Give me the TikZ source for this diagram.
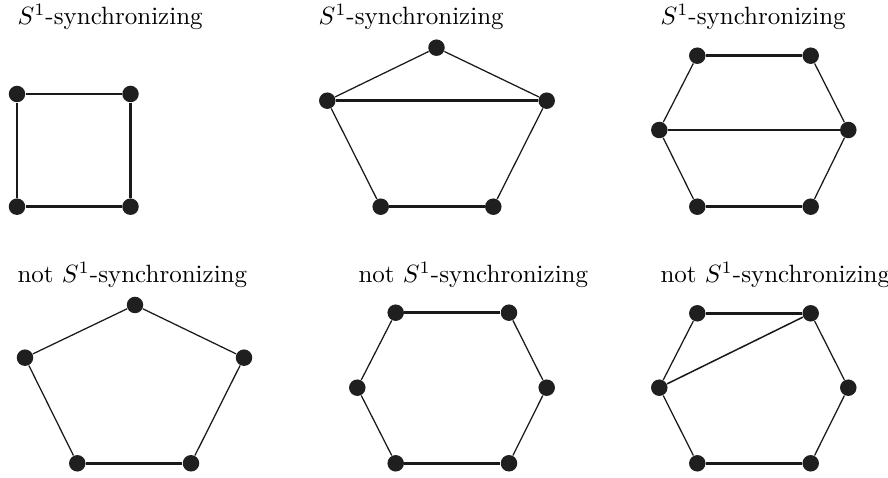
\documentclass[tikz,border=0pt]{standalone}
\begin{document}
\begin{tikzpicture}[x=0.4pt,y=-0.4pt,
  vtx/.style={circle,fill=black!88,inner sep=0pt,minimum size=6.6pt},
  thk/.style={line width=1.1pt,black!90},
  thn/.style={line width=0.5pt,black!90},
  lbl/.style={anchor=base west,inner sep=0pt,font=\fontsize{10}{12}\selectfont}]
\useasboundingbox (0,0) rectangle (888,478);
% labels
\node[lbl] (l1) at (17,25) {$S^1$-synchronizing};
\node[lbl] (l2) at (318,25) {$S^1$-synchronizing};
\node[lbl] (l3) at (660,25) {$S^1$-synchronizing};
\node[lbl] (l4) at (17,283) {not $S^1$-synchronizing};
\node[lbl] (l5) at (358,283) {not $S^1$-synchronizing};
\node[lbl] (l6) at (660,283) {not $S^1$-synchronizing};
% graph 1: square
\node[vtx] (a1) at (17,94) {};
\node[vtx] (a2) at (130.5,94) {};
\node[vtx] (a3) at (130.5,206.7) {};
\node[vtx] (a4) at (17,206.7) {};
\draw[thk] (a1)--(a2) (a2)--(a3) (a3)--(a4) (a4)--(a1);
% graph 2: pentagon with chord
\node[vtx] (b1) at (436.5,47.7) {};
\node[vtx] (b2) at (546.7,100.7) {};
\node[vtx] (b3) at (493.3,206.7) {};
\node[vtx] (b4) at (380.7,206.7) {};
\node[vtx] (b5) at (327.3,100.7) {};
\draw[thn] (b1)--(b2) (b2)--(b3) (b4)--(b5) (b5)--(b1);
\draw[thk] (b3)--(b4) (b5)--(b2);
% graph 3: hexagon with long chord
\node[vtx] (c1) at (697.3,55.7) {};
\node[vtx] (c2) at (810.7,55.7) {};
\node[vtx] (c3) at (848.3,130) {};
\node[vtx] (c4) at (810.7,206.7) {};
\node[vtx] (c5) at (697.3,206.7) {};
\node[vtx] (c6) at (659.3,130) {};
\draw[thn] (c2)--(c3) (c3)--(c4) (c5)--(c6) (c6)--(c1);
\draw[thk] (c1)--(c2) (c4)--(c5) (c6)--(c3);
% graph 4: pentagon
\node[vtx] (d1) at (135,305) {};
\node[vtx] (d2) at (244,357.7) {};
\node[vtx] (d3) at (191,463.3) {};
\node[vtx] (d4) at (77.3,463.3) {};
\node[vtx] (d5) at (25,357.7) {};
\draw[thn] (d1)--(d2) (d2)--(d3) (d4)--(d5) (d5)--(d1);
\draw[thk] (d3)--(d4);
% graph 5: hexagon
\node[vtx] (e1) at (395.7,312.7) {};
\node[vtx] (e2) at (509,312.7) {};
\node[vtx] (e3) at (546.7,387.7) {};
\node[vtx] (e4) at (509,463.3) {};
\node[vtx] (e5) at (395.7,463.3) {};
\node[vtx] (e6) at (357.3,387.7) {};
\draw[thn] (e2)--(e3) (e3)--(e4) (e5)--(e6) (e6)--(e1);
\draw[thk] (e1)--(e2) (e4)--(e5);
% graph 6: hexagon with short chord
\node[vtx] (f1) at (697.3,313.3) {};
\node[vtx] (f2) at (810.7,313.3) {};
\node[vtx] (f3) at (848.3,387.7) {};
\node[vtx] (f4) at (810.7,463.3) {};
\node[vtx] (f5) at (697.3,463.3) {};
\node[vtx] (f6) at (659.3,387.7) {};
\draw[thn] (f2)--(f3) (f3)--(f4) (f5)--(f6) (f6)--(f1);
\draw[thk] (f1)--(f2) (f4)--(f5);
\draw[thn,line width=0.6pt] (f6)--(f2);
\end{tikzpicture}
\end{document}
